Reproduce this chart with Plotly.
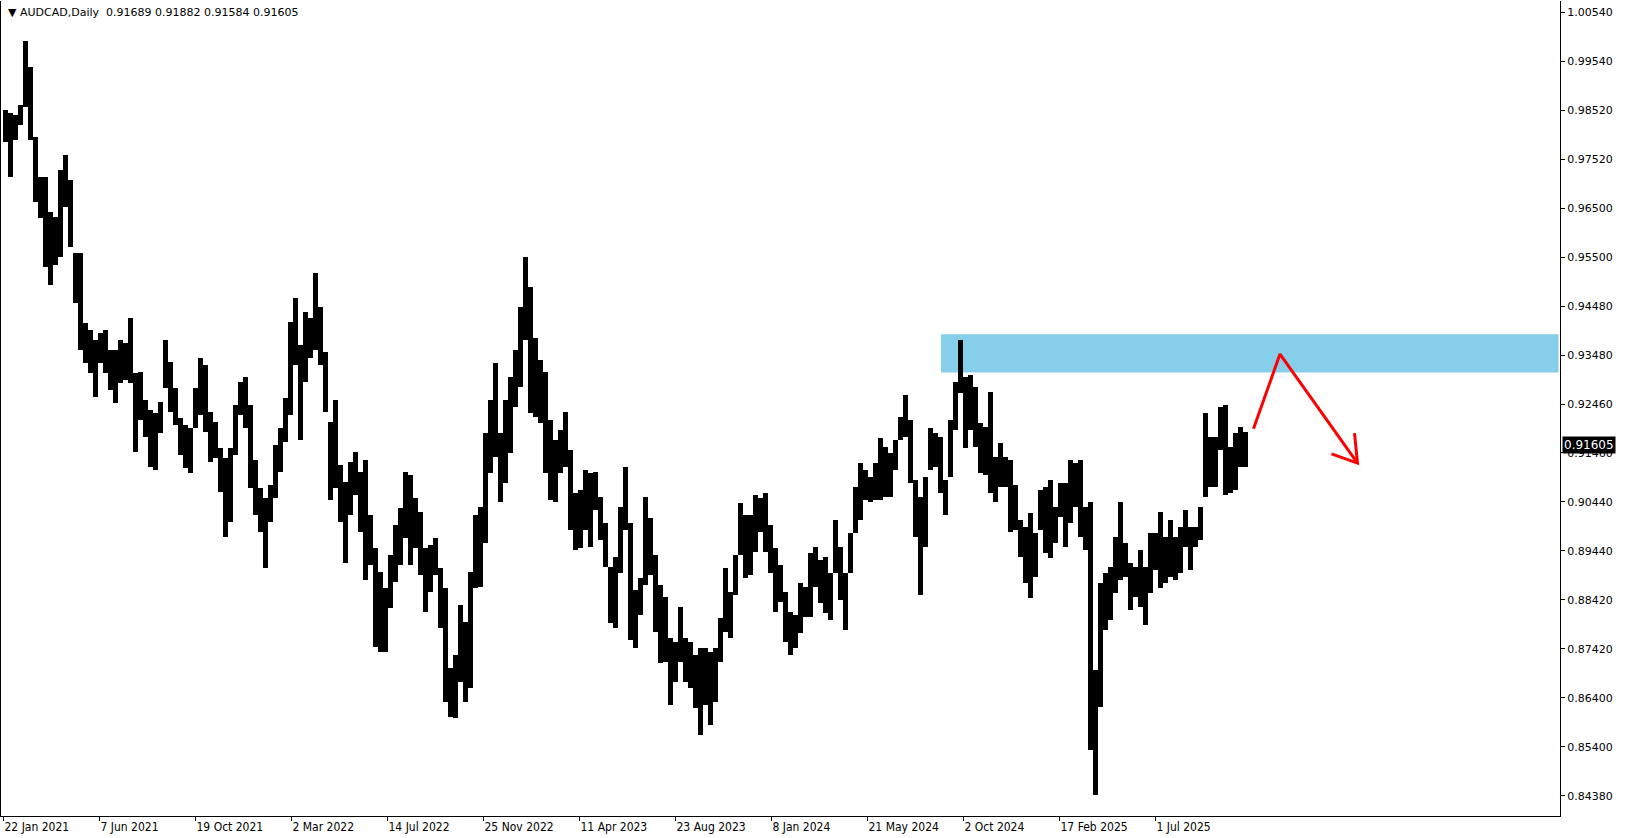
import plotly.graph_objects as go

# ---------------- data (AUDCAD daily) ----------------
# each value = high / low of a group of 5 consecutive daily bars
BARS_PER_GROUP = 5
group_highs = [
    0.9853, 0.9846, 0.9842, 0.9863, 0.9995, 0.9941, 0.9797, 0.9714, 0.9714, 0.9642,
    0.9632, 0.9729, 0.9760, 0.9708, 0.9558, 0.9558, 0.9413, 0.9399, 0.9378, 0.9393,
    0.9399, 0.9358, 0.9358, 0.9378, 0.9372, 0.9424, 0.9310, 0.9312, 0.9254, 0.9234,
    0.9228, 0.9250, 0.9378, 0.9333, 0.9279, 0.9217, 0.9203, 0.9197, 0.9279, 0.9341,
    0.9327, 0.9230, 0.9209, 0.9155, 0.9135, 0.9155, 0.9244, 0.9291, 0.9302, 0.9244,
    0.9131, 0.9073, 0.9052, 0.9079, 0.9162, 0.9197, 0.9258, 0.9415, 0.9465, 0.9368,
    0.9436, 0.9424, 0.9516, 0.9446, 0.9353, 0.9209, 0.9254, 0.9120, 0.9085, 0.9126,
    0.9147, 0.9106, 0.9131, 0.9017, 0.8949, 0.8900, 0.8867, 0.8935, 0.8997, 0.9032,
    0.9106, 0.9100, 0.9052, 0.9023, 0.8949, 0.8955, 0.8970, 0.8908, 0.8867, 0.8702,
    0.8728, 0.8832, 0.8796, 0.8900, 0.9017, 0.9034, 0.9186, 0.9254, 0.9331, 0.9186,
    0.9254, 0.9302, 0.9358, 0.9446, 0.9549, 0.9487, 0.9382, 0.9337, 0.9312, 0.9213,
    0.9172, 0.9192, 0.9230, 0.9151, 0.9063, 0.9069, 0.9110, 0.9104, 0.9106, 0.9054,
    0.9001, 0.8910, 0.8931, 0.9034, 0.9116, 0.9001, 0.8862, 0.8887, 0.9054, 0.9011,
    0.8935, 0.8873, 0.8848, 0.8763, 0.8755, 0.8827, 0.8763, 0.8755, 0.8728, 0.8743,
    0.8743, 0.8735, 0.8743, 0.8805, 0.8908, 0.8858, 0.8935, 0.9042, 0.9017, 0.9017,
    0.9058, 0.9052, 0.9063, 0.8997, 0.8949, 0.8914, 0.8858, 0.8817, 0.8811, 0.8877,
    0.8869, 0.8939, 0.8951, 0.8924, 0.8931, 0.8898, 0.9007, 0.8951, 0.8898, 0.8980,
    0.9075, 0.9124, 0.9110, 0.9096, 0.9124, 0.9176, 0.9157, 0.9145, 0.9172, 0.9219,
    0.9265, 0.9213, 0.9089, 0.9054, 0.9096, 0.9197, 0.9186, 0.9178, 0.9089, 0.9213,
    0.9291, 0.9378, 0.9302, 0.9306, 0.9281, 0.9207, 0.9199, 0.9271, 0.9137, 0.9166,
    0.9137, 0.9131, 0.9079, 0.9007, 0.8992, 0.9021, 0.8980, 0.9069, 0.9075, 0.9089,
    0.9034, 0.9083, 0.9083, 0.9131, 0.9124, 0.9131, 0.9034, 0.9044, 0.8697, 0.8877,
    0.8897, 0.8910, 0.8972, 0.9044, 0.8959, 0.8918, 0.8910, 0.8945, 0.8910, 0.8980,
    0.8980, 0.9023, 0.8972, 0.9007, 0.8972, 0.8992, 0.9027, 0.8992, 0.8992, 0.9034,
    0.9228, 0.9178, 0.9178, 0.9240, 0.9244, 0.9157, 0.9186, 0.9199, 0.9188,
]
group_lows = [
    0.9787, 0.9714, 0.9791, 0.9822, 0.9859, 0.9791, 0.9663, 0.9630, 0.9529, 0.9492,
    0.9533, 0.9549, 0.9652, 0.9570, 0.9454, 0.9358, 0.9331, 0.9310, 0.9261, 0.9331,
    0.9310, 0.9275, 0.9248, 0.9289, 0.9296, 0.9289, 0.9147, 0.9213, 0.9178, 0.9116,
    0.9110, 0.9186, 0.9279, 0.9230, 0.9203, 0.9141, 0.9114, 0.9104, 0.9197, 0.9223,
    0.9188, 0.9126, 0.9135, 0.9065, 0.8972, 0.9003, 0.9141, 0.9223, 0.9197, 0.9073,
    0.9017, 0.8982, 0.8908, 0.9003, 0.9052, 0.9106, 0.9168, 0.9223, 0.9327, 0.9172,
    0.9291, 0.9341, 0.9358, 0.9327, 0.9230, 0.9048, 0.9073, 0.9003, 0.8918, 0.9017,
    0.9058, 0.8982, 0.8883, 0.8914, 0.8745, 0.8735, 0.8735, 0.8825, 0.8879, 0.8914,
    0.8970, 0.8914, 0.8949, 0.8893, 0.8817, 0.8858, 0.8893, 0.8784, 0.8631, 0.8600,
    0.8598, 0.8673, 0.8631, 0.8660, 0.8867, 0.8869, 0.8959, 0.9104, 0.9137, 0.9044,
    0.9083, 0.9145, 0.9240, 0.9281, 0.9378, 0.9228, 0.9219, 0.9207, 0.9104, 0.9048,
    0.9044, 0.9104, 0.9116, 0.8986, 0.8945, 0.8949, 0.8986, 0.8951, 0.9027, 0.8966,
    0.8910, 0.8794, 0.8784, 0.8898, 0.8986, 0.8759, 0.8743, 0.8811, 0.8873, 0.8893,
    0.8776, 0.8712, 0.8714, 0.8625, 0.8673, 0.8714, 0.8673, 0.8660, 0.8619, 0.8563,
    0.8625, 0.8584, 0.8631, 0.8714, 0.8776, 0.8763, 0.8852, 0.8935, 0.8887, 0.8893,
    0.8941, 0.8982, 0.8941, 0.8898, 0.8817, 0.8838, 0.8755, 0.8728, 0.8743, 0.8774,
    0.8807, 0.8807, 0.8869, 0.8836, 0.8815, 0.8801, 0.8898, 0.8842, 0.8780, 0.8898,
    0.8980, 0.9007, 0.9048, 0.9044, 0.9048, 0.9048, 0.9054, 0.9054, 0.9110, 0.9172,
    0.9178, 0.9083, 0.8972, 0.8852, 0.8951, 0.9110, 0.9116, 0.9063, 0.9017, 0.9096,
    0.9192, 0.9269, 0.9155, 0.9192, 0.9157, 0.9104, 0.9100, 0.9063, 0.9044, 0.9075,
    0.9075, 0.8982, 0.8986, 0.8931, 0.8877, 0.8846, 0.8889, 0.8986, 0.8939, 0.8928,
    0.8959, 0.9013, 0.8951, 0.9001, 0.9034, 0.8972, 0.8945, 0.8532, 0.8440, 0.8621,
    0.8780, 0.8801, 0.8856, 0.8883, 0.8889, 0.8821, 0.8848, 0.8827, 0.8790, 0.8856,
    0.8904, 0.8867, 0.8877, 0.8889, 0.8883, 0.8898, 0.8951, 0.8904, 0.8951, 0.8966,
    0.9054, 0.9075, 0.9075, 0.9151, 0.9058, 0.9063, 0.9069, 0.9116, 0.9116,
]

date_labels = ["22 Jan 2021", "7 Jun 2021", "19 Oct 2021", "2 Mar 2022", "14 Jul 2022",
               "25 Nov 2022", "11 Apr 2023", "23 Aug 2023", "8 Jan 2024", "21 May 2024",
               "2 Oct 2024", "17 Feb 2025", "1 Jul 2025"]
BARS_BETWEEN_LABELS = 96

price_labels = ["1.00540", "0.99540", "0.98520", "0.97520", "0.96500", "0.95500",
                "0.94480", "0.93480", "0.92460", "0.91460", "0.90440", "0.89440",
                "0.88420", "0.87420", "0.86400", "0.85400", "0.84380"]
PRICE_TOP_TICK = 1.00540
PRICE_TICK_STEP = 0.0101

symbol_header = "\u25BC AUDCAD,Daily  0.91689 0.91882 0.91584 0.91605"
last_price = 0.91605

# resistance zone and drawn arrow (in bar index / price)
zone_start_bar = 937.5
zone_end_bar = 1555
zone_low, zone_high = 0.9311, 0.9390
arrow_bars = [1250, 1276.5, 1354]
arrow_prices = [0.9195, 0.9349, 0.9124]
arrow_head_bars = [1351, 1354, 1328]
arrow_head_prices = [0.9186, 0.9124, 0.9143]

# ---------------- figure ----------------
n = len(group_highs)
centers = [BARS_PER_GROUP * k + (BARS_PER_GROUP - 1) / 2 for k in range(n)]
spans = [h - l for h, l in zip(group_highs, group_lows)]

fig = go.Figure()
fig.add_trace(go.Bar(
    x=centers, y=spans, base=group_lows, width=BARS_PER_GROUP + 0.35,
    marker=dict(color="black", line=dict(width=0)),
    hoverinfo="skip", showlegend=False,
))
fig.add_trace(go.Scatter(x=arrow_bars, y=arrow_prices, mode="lines",
                         line=dict(color="#ff0000", width=3), hoverinfo="skip",
                         showlegend=False))
fig.add_trace(go.Scatter(x=arrow_head_bars, y=arrow_head_prices, mode="lines",
                         line=dict(color="#ff0000", width=3), hoverinfo="skip",
                         showlegend=False))

fig.add_shape(type="rect", xref="x", yref="y", x0=zone_start_bar, x1=zone_end_bar,
              y0=zone_low, y1=zone_high, fillcolor="#87CEEB", line=dict(width=0),
              layer="below")

tick_vals_y = [PRICE_TOP_TICK - PRICE_TICK_STEP * k for k in range(len(price_labels))]
tick_vals_x = [BARS_BETWEEN_LABELS * k for k in range(len(date_labels))]

fig.update_layout(
    width=1625, height=838,
    margin=dict(l=1, r=65, t=1, b=22),
    paper_bgcolor="white", plot_bgcolor="white",
    bargap=0, showlegend=False, hovermode=False,
    xaxis=dict(range=[-2.5, 1556.5], tickvals=tick_vals_x, ticktext=date_labels,
               ticks="outside", ticklen=4, tickcolor="black", ticklabelposition="outside right",
               showline=True, linecolor="black", linewidth=1, mirror=False,
               showgrid=False, zeroline=False,
               tickfont=dict(family="DejaVu Sans Condensed, DejaVu Sans", size=12, color="black")),
    yaxis=dict(range=[0.83962, 1.00773], side="right", tickvals=tick_vals_y,
               ticktext=price_labels, ticks="outside", ticklen=4, tickcolor="black",
               showline=True, linecolor="black", linewidth=1, mirror=True,
               showgrid=False, zeroline=False,
               tickfont=dict(family="DejaVu Sans", size=11, color="black")),
)

fig.add_annotation(xref="paper", yref="paper", x=0, y=1, xanchor="left", yanchor="top",
                   xshift=5, yshift=-3, text=symbol_header, showarrow=False,
                   font=dict(family="DejaVu Sans", size=11, color="black"))
fig.add_annotation(xref="paper", yref="y", x=1, y=last_price, xanchor="left", yanchor="middle",
                   xshift=2, text=f"{last_price:.5f}", showarrow=False, bgcolor="black",
                   borderpad=1, font=dict(family="DejaVu Sans", size=12, color="white"))

fig.write_html(
    "out.html",
    config={"displayModeBar": False},
    post_script="document.body.style.margin='0';document.body.style.padding='0';"
                "document.body.style.overflow='hidden';",
)
